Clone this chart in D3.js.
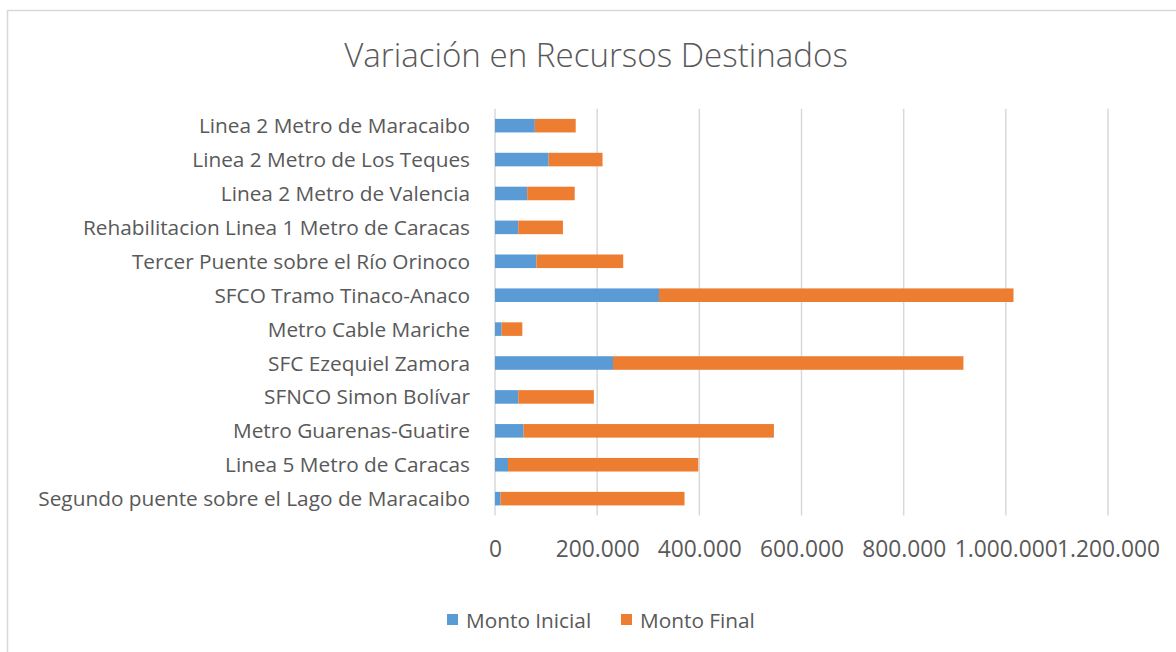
<!DOCTYPE html>
<html>
<head>
<meta charset="utf-8">
<script src="https://cdn.jsdelivr.net/npm/d3@7"></script>
<style>
  body { margin: 0; background: #fff; }
  svg { display: block; font-family: "Open Sans", "Noto Sans", sans-serif; }
</style>
</head>
<body>
<div id="chart"></div>
<script>
// data
const categories = [
  "Linea 2 Metro de Maracaibo",
  "Linea 2 Metro de Los Teques",
  "Linea 2 Metro de Valencia",
  "Rehabilitacion Linea 1 Metro de Caracas",
  "Tercer Puente sobre el Río Orinoco",
  "SFCO Tramo Tinaco-Anaco",
  "Metro Cable Mariche",
  "SFC Ezequiel Zamora",
  "SFNCO Simon Bolívar",
  "Metro Guarenas-Guatire",
  "Linea 5 Metro de Caracas",
  "Segundo puente sobre el Lago de Maracaibo"
];
const montoInicial = [78000, 105000, 63000, 45500, 81000, 321000, 13000, 231000, 45500, 56000, 25500, 11000];
const montoFinal   = [80000, 105500, 93000, 87500, 170000, 694000, 40500, 686000, 148000, 490000, 372500, 360000];
const seriesNames = ["Monto Inicial", "Monto Final"];
const seriesColors = ["#5b9bd5", "#ed7d31"];
const xTicks = [0, 200000, 400000, 600000, 800000, 1000000, 1200000];

const W = 1176, H = 652;
const svg = d3.select("#chart").append("svg").attr("width", W).attr("height", H);

// chart frame
svg.append("rect").attr("x", 7.5).attr("y", 10.5).attr("width", W + 10).attr("height", H + 10)
  .attr("fill", "#fff").attr("stroke", "#d9d9d9").attr("stroke-width", 1.5);

const title = svg.append("text")
  .attr("x", 596).attr("y", 67)
  .attr("text-anchor", "middle")
  .attr("font-size", 30).attr("font-weight", 300)
  .attr("fill", "#595959")
  .text("Variación en Recursos Destinados");
title.attr("font-size", 30 * 504 / title.node().getComputedTextLength());

const x = d3.scaleLinear().domain([0, 1200000]).range([495, 1108]);
const y = d3.scaleBand().domain(categories).range([108.7, 515.6]).paddingInner(0.6).paddingOuter(0.3);

const fmt = v => d3.format(",")(v).replace(/,/g, ".");

// gridlines
svg.append("g").selectAll("line").data(xTicks).join("line")
  .attr("x1", d => x(d)).attr("x2", d => x(d))
  .attr("y1", 108.7).attr("y2", 515.6)
  .attr("stroke", "#d9d9d9").attr("stroke-width", 1.5);

const rows = categories.map((c, i) => ({ cat: c, a: montoInicial[i], b: montoFinal[i] }));
const stack = d3.stack().keys(["a", "b"])(rows);

svg.append("g").selectAll("g").data(stack).join("g")
  .attr("fill", (d, i) => seriesColors[i])
  .selectAll("rect").data(d => d).join("rect")
  .attr("x", d => x(d[0]))
  .attr("y", d => y(d.data.cat))
  .attr("width", d => x(d[1]) - x(d[0]))
  .attr("height", y.bandwidth());

// category labels
const labels = svg.append("g").attr("fill", "#595959")
  .selectAll("text").data(categories).join("text")
  .attr("x", 470)
  .attr("y", d => y(d) + y.bandwidth() / 2)
  .attr("dy", "0.36em")
  .attr("text-anchor", "end")
  .attr("font-size", 18)
  .text(d => d);

// fit font size to the widest label width seen in the picture
const widest = d3.max(labels.nodes(), n => n.getComputedTextLength());
const labelSize = 18 * 432 / widest;
labels.attr("font-size", labelSize);

// x axis labels
const xAxis = svg.append("g").attr("transform", "translate(0,554)")
  .call(d3.axisBottom(x).tickValues(xTicks).tickFormat(fmt).tickSize(0));
xAxis.select(".domain").remove();
const tickTexts = xAxis.selectAll("text")
  .attr("font-family", "\"Open Sans\", sans-serif")
  .attr("font-size", 18)
  .attr("fill", "#595959")
  .attr("dy", "0");
const w200 = tickTexts.nodes()[1].getComputedTextLength();
tickTexts.attr("font-size", 18 * 84 / w200);

// legend
const legend = svg.append("g").attr("transform", "translate(0,620)");
const legX = [447, 621];
seriesNames.forEach((name, i) => {
  legend.append("rect").attr("x", legX[i]).attr("y", -6).attr("width", 11).attr("height", 11)
    .attr("fill", seriesColors[i]);
  legend.append("text").attr("x", legX[i] + 19).attr("y", 0).attr("dy", "0.36em")
    .attr("font-size", labelSize).attr("fill", "#595959").text(name);
});
</script>
</body>
</html>
